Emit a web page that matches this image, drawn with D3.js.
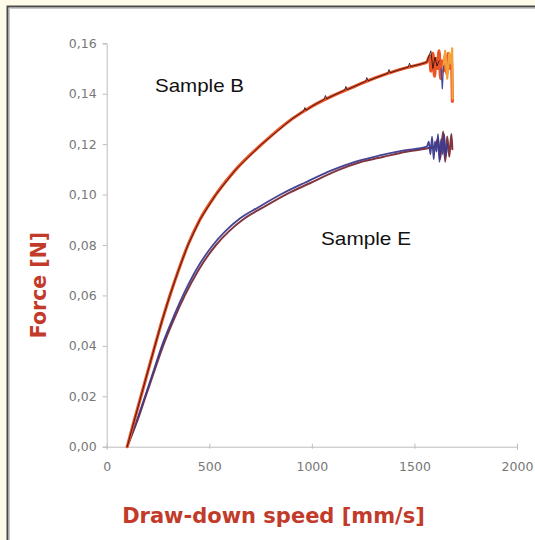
<!DOCTYPE html>
<html><head><meta charset="utf-8">
<script src="https://cdn.jsdelivr.net/npm/d3@7"></script>
<style>html,body{margin:0;padding:0;background:#fffbe9;}svg{display:block;}</style>
</head><body>
<script>
// ---- data ----
const xTicks = [0, 500, 1000, 1500, 2000];
const yTicks = [0, 0.02, 0.04, 0.06, 0.08, 0.10, 0.12, 0.14, 0.16];
const yTickLabels = ["0,00","0,02","0,04","0,06","0,08","0,10","0,12","0,14","0,16"];
const seriesNames = ["Sample B", "Sample E"];

// Sample B main curve (orange-red)
const sampleBSpeed = [100,133,167,201,235,270,308,350,396,454,532,630,756,903,1000,1102,1210,1317,1430,1541,1560,1575,1580,1590,1598,1605,1612,1620,1628,1635,1642,1650,1658,1665,1672,1680,1685];
const sampleBForce = [0,0.010,0.020,0.030,0.040,0.050,0.060,0.070,0.080,0.090,0.100,0.110,0.120,0.130,0.1350,0.1392,0.1430,0.1465,0.1496,0.1520,0.1525,0.155,0.149,0.156,0.147,0.154,0.150,0.157,0.146,0.153,0.149,0.155,0.148,0.156,0.150,0.154,0.137];
// Sample B black trace (with small teeth)
const sampleBkSpeed = [100,133,167,201,235,270,308,350,396,454,532,630,756,903,960,966,972,1000,1060,1066,1072,1102,1160,1166,1172,1210,1262,1268,1274,1317,1370,1376,1382,1430,1470,1476,1482,1541,1560,1580,1590,1600,1610,1620];
const sampleBkForce = [0,0.010,0.020,0.030,0.040,0.050,0.060,0.070,0.080,0.090,0.100,0.110,0.120,0.130,0.1331,0.1345,0.1334,0.1350,0.1378,0.1393,0.1380,0.1392,0.1414,0.1429,0.1416,0.1430,0.1449,0.1464,0.1451,0.1465,0.1481,0.1496,0.1483,0.1496,0.1506,0.1521,0.1508,0.1520,0.1525,0.1570,0.1500,0.1545,0.1510,0.1530];
// Sample B light orange tail
const sampleBtSpeed = [1640,1650,1660,1670,1678,1684,1686];
const sampleBtForce = [0.150,0.157,0.146,0.156,0.152,0.158,0.138];
// Sample B blue spike
const sampleBsSpeed = [1630,1636,1642];
const sampleBsForce = [0.150,0.142,0.151];

// Sample E navy trace
const sampleESpeed = [100,145,187,228,269,318,372,435,518,580,649,740,859,965,1102,1210,1331,1450,1560,1570,1578,1586,1594,1600,1608,1615,1622,1630,1638,1645,1652,1660];
const sampleEForce = [0,0.010,0.020,0.030,0.040,0.050,0.060,0.070,0.080,0.0856,0.0905,0.0950,0.1005,0.1047,0.1098,0.1130,0.1155,0.1175,0.1190,0.121,0.116,0.123,0.114,0.121,0.117,0.124,0.113,0.122,0.116,0.124,0.115,0.120];
// Sample E maroon trace
const sampleE2Speed = [100,148,190,232,275,325,381,447,533,597,668,760,880,990,1125,1235,1350,1460,1560,1600,1615,1625,1640,1650,1660,1670,1680,1685];
const sampleE2Force = [0,0.010,0.020,0.030,0.040,0.050,0.060,0.070,0.080,0.0855,0.0903,0.0948,0.1003,0.1045,0.1096,0.1128,0.1150,0.1170,0.1183,0.119,0.122,0.114,0.125,0.113,0.123,0.115,0.124,0.118];

// ---- drawing ----
const W = 535, H = 540;
const svg = d3.select("body").append("svg").attr("width", W).attr("height", H);

svg.append("rect").attr("x",0).attr("y",0).attr("width",W).attr("height",H).attr("fill","#fffbe9");
svg.append("rect").attr("x",7.5).attr("y",6.5).attr("width",W).attr("height",H).attr("fill","#ffffff")
  .attr("stroke","#4a4a4a").attr("stroke-width",2);
svg.append("path").attr("d",`M9.5,${H} V8.5 H${W}`).attr("fill","none").attr("stroke","#c8c8c8").attr("stroke-width",1);

const x = d3.scaleLinear().domain([0,2000]).range([106.7,517]);
const y = d3.scaleLinear().domain([0,0.16]).range([446.7,43.3]);

// y axis
const yAxis = d3.axisLeft(y).tickValues(yTicks).tickSize(4).tickPadding(6)
  .tickFormat((d,i) => yTickLabels[i]);
const gy = svg.append("g").attr("transform",`translate(${x(0)},0)`).call(yAxis);
gy.select(".domain").attr("stroke","#bdbdbd");
gy.selectAll(".tick line").attr("stroke","#bdbdbd");
gy.selectAll(".tick text").attr("fill","#777").attr("font-family","DejaVu Sans").attr("font-size",12.5);

// x axis
const xAxis = d3.axisBottom(x).tickValues(xTicks).tickSize(3).tickPadding(12).tickFormat(d3.format("d"));
const gx = svg.append("g").attr("transform",`translate(0,${y(0)})`).call(xAxis);
gx.select(".domain").attr("stroke","#bdbdbd");
gx.selectAll(".tick line").attr("stroke","#bdbdbd").attr("y1",-3).attr("y2",2);
gx.selectAll(".tick text").attr("fill","#777").attr("font-family","DejaVu Sans").attr("font-size",12.5);

const line = (sx, sf, curve) => d3.line().x((d,i)=>x(sx[i])).y((d,i)=>y(sf[i])).curve(curve)(sx);

function draw(sx, sf, color, width, curve, op) {
  svg.append("path").attr("d", line(sx, sf, curve || d3.curveLinear))
    .attr("fill","none").attr("stroke",color).attr("stroke-width",width)
    .attr("stroke-linejoin","round").attr("stroke-linecap","round").attr("opacity", op||1);
}

// Sample E
draw(sampleE2Speed, sampleE2Force, "#7a2a35", 2, d3.curveMonotoneX, 0.95);
draw(sampleESpeed, sampleEForce, "#3d3a8c", 1.8, d3.curveMonotoneX, 0.95);
// Sample B
draw(sampleBSpeed, sampleBForce, "#ec5427", 3.2, d3.curveMonotoneX);
draw(sampleBtSpeed, sampleBtForce, "#f3a23b", 2.2, d3.curveLinear);
draw(sampleBkSpeed, sampleBkForce, "#2a1010", 1, d3.curveLinear, 0.85);
draw(sampleBsSpeed, sampleBsForce, "#3d4aa0", 1.2, d3.curveLinear);

// labels
svg.append("text").attr("x",155).attr("y",92).text(seriesNames[0])
  .attr("font-family","Liberation Sans, Arial").attr("font-size",18.5).attr("fill","#111")
  .attr("textLength",89).attr("lengthAdjust","spacingAndGlyphs");
svg.append("text").attr("x",321).attr("y",245).text(seriesNames[1])
  .attr("font-family","Liberation Sans, Arial").attr("font-size",18.5).attr("fill","#111")
  .attr("textLength",90).attr("lengthAdjust","spacingAndGlyphs");

// axis titles
svg.append("text").attr("x",273.5).attr("y",523).attr("text-anchor","middle")
  .attr("font-family","DejaVu Sans").attr("font-weight","bold").attr("font-size",21)
  .attr("fill","#c23b2a").text("Draw-down speed [mm/s]");
svg.append("text").attr("transform","translate(46,285) rotate(-90)").attr("text-anchor","middle")
  .attr("font-family","DejaVu Sans").attr("font-weight","bold").attr("font-size",20.5)
  .attr("fill","#c23b2a").text("Force [N]");
</script>
</body></html>
